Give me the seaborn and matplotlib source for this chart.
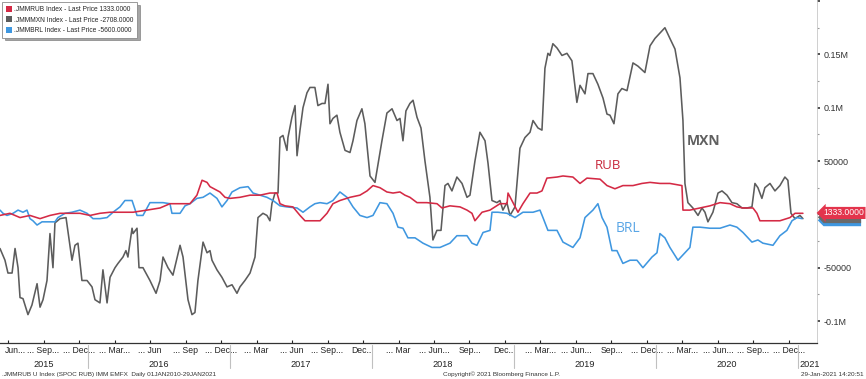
import numpy as np
import pandas as pd
import seaborn as sns
import matplotlib
matplotlib.use("Agg")
import matplotlib.pyplot as plt
from matplotlib.transforms import blended_transform_factory
from matplotlib.patches import Patch, Polygon
from matplotlib.lines import Line2D

# ---------------- data (time in decimal years, values in thousands) ----------------
mxn_t = [2015.38, 2015.415, 2015.436, 2015.465, 2015.486, 2015.507, 2015.521, 2015.542, 2015.577, 2015.605,
         2015.641, 2015.662, 2015.683, 2015.711, 2015.732, 2015.753, 2015.767, 2015.803, 2015.845, 2015.887,
         2015.908, 2015.929, 2015.957, 2015.993, 2016.028, 2016.049, 2016.084, 2016.105, 2016.134, 2016.155,
         2016.19, 2016.211, 2016.246, 2016.267, 2016.281, 2016.31, 2016.317, 2016.345, 2016.359, 2016.387,
         2016.436, 2016.479, 2016.507, 2016.528, 2016.563, 2016.598, 2016.648, 2016.669, 2016.704, 2016.732,
         2016.753, 2016.774, 2016.81, 2016.838, 2016.859, 2016.873, 2016.908, 2016.943, 2016.979, 2017.014,
         2017.049, 2017.07, 2017.105, 2017.141, 2017.176, 2017.197, 2017.232, 2017.26, 2017.281, 2017.295,
         2017.317, 2017.338, 2017.352, 2017.373, 2017.401, 2017.408, 2017.436, 2017.458, 2017.472, 2017.493,
         2017.514, 2017.542, 2017.563, 2017.598, 2017.619, 2017.648, 2017.669, 2017.69, 2017.704, 2017.725,
         2017.753, 2017.774, 2017.81, 2017.845, 2017.866, 2017.894, 2017.929, 2017.95, 2017.986, 2018.021,
         2018.07, 2018.105, 2018.141, 2018.176, 2018.197, 2018.218, 2018.239, 2018.267, 2018.289, 2018.317,
         2018.345, 2018.373, 2018.408, 2018.429, 2018.457, 2018.486, 2018.514, 2018.535, 2018.563, 2018.598,
         2018.634, 2018.669, 2018.69, 2018.725, 2018.76, 2018.796, 2018.817, 2018.845, 2018.88, 2018.901,
         2018.922, 2018.95, 2018.972, 2019.007, 2019.042, 2019.077, 2019.113, 2019.134, 2019.169, 2019.197,
         2019.218, 2019.239, 2019.253, 2019.274, 2019.303, 2019.338, 2019.373, 2019.408, 2019.443, 2019.465,
         2019.5, 2019.521, 2019.556, 2019.591, 2019.627, 2019.655, 2019.676, 2019.704, 2019.732, 2019.76,
         2019.796, 2019.838, 2019.873, 2019.922, 2019.958, 2019.993, 2020.028, 2020.063, 2020.098, 2020.134,
         2020.169, 2020.19, 2020.204, 2020.225, 2020.26, 2020.296, 2020.324, 2020.345, 2020.366, 2020.401,
         2020.437, 2020.465, 2020.5, 2020.535, 2020.57, 2020.606, 2020.641, 2020.676, 2020.697, 2020.718,
         2020.746, 2020.767, 2020.803, 2020.838, 2020.873, 2020.908, 2020.929, 2020.951, 2020.979, 2021.014,
         2021.035]
mxn_v = [-32, -43, -55, -55, -32, -50, -78, -79, -94, -85,
         -65, -87, -80, -62, -18, -50, -8, -4, -3, -43,
         -29, -27, -62, -62, -68, -80, -83, -52, -83, -59,
         -50, -46, -40, -34, -40, -13, -18, -13, -50, -50,
         -62, -74, -62, -40, -50, -57, -29, -40, -80, -94,
         -92, -62, -26, -36, -34, -43, -52, -59, -68, -66,
         -74, -68, -62, -55, -40, -3, 1, -1, -6, 10,
         20, 20, 72, 74, 60, 72, 91, 102, 55, 79,
         100, 114, 119, 119, 102, 104, 104, 122, 85, 90,
         93, 77, 60, 58, 69, 88, 99, 85, 36, 30,
         69, 95, 99, 88, 90, 69, 97, 104, 107, 91,
         81, 50, 16, -24, -15, -15, 27, 29, 22, 35,
         29, 16, 18, 50, 77, 69, 48, 13, 11, 13,
         4, 11, -1, 7, 62, 72, 77, 88, 81, 79,
         137, 151, 149, 160, 156, 149, 151, 144, 105, 121,
         113, 132, 132, 122, 109, 94, 93, 85, 113, 118,
         116, 142, 139, 133, 158, 165, 170, 175, 165, 155,
         128, 88, 29, 11, 6, -1, 6, 2, -7, 2,
         20, 22, 18, 11, 10, 6, 6, 7, 29, 25,
         15, 25, 29, 22, 27, 35, 32, 1, -4, -1,
         -4]

rub_t = [2015.38, 2015.45, 2015.521, 2015.591, 2015.662, 2015.732, 2015.803, 2015.873, 2015.943, 2016.014,
         2016.084, 2016.155, 2016.225, 2016.317, 2016.415, 2016.507, 2016.577, 2016.648, 2016.718, 2016.767,
         2016.803, 2016.838, 2016.859, 2016.929, 2016.965, 2017.0, 2017.07, 2017.141, 2017.211, 2017.281,
         2017.331, 2017.352, 2017.387, 2017.443, 2017.493, 2017.528, 2017.584, 2017.634, 2017.683, 2017.725,
         2017.774, 2017.845, 2017.915, 2017.965, 2018.007, 2018.056, 2018.105, 2018.148, 2018.197, 2018.232,
         2018.267, 2018.317, 2018.387, 2018.458, 2018.493, 2018.549, 2018.62, 2018.669, 2018.704, 2018.725,
         2018.775, 2018.831, 2018.901, 2018.951, 2018.958, 2018.993, 2019.028, 2019.063, 2019.113, 2019.162,
         2019.197, 2019.232, 2019.303, 2019.345, 2019.415, 2019.465, 2019.514, 2019.606, 2019.655, 2019.711,
         2019.767, 2019.838, 2019.901, 2019.958, 2020.028, 2020.098, 2020.183, 2020.19, 2020.239, 2020.31,
         2020.38, 2020.451, 2020.521, 2020.57, 2020.613, 2020.683, 2020.711, 2020.732, 2020.803, 2020.873,
         2020.944, 2020.979, 2021.035]
rub_v = [-1, 1, -3, -1, -4, -1, 1, 1, 1, -1,
         1, 2, 2, 2, 4, 6, 10, 10, 10, 18,
         32, 30, 26, 21, 16, 15, 16, 18, 18, 20,
         20, 10, 8, 7, -1, -6, -6, -6, 1, 10,
         13, 16, 18, 22, 27, 25, 21, 20, 21, 18,
         16, 11, 11, 10, 6, 8, 7, 4, 1, -6,
         2, 4, 10, 10, 20, 11, 2, 10, 20, 20,
         22, 34, 35, 36, 35, 29, 34, 33, 27, 24,
         27, 27, 29, 30, 29, 29, 27, 4, 4, 6,
         8, 11, 10, 7, 6, 6, 1, -6, -6, -6,
         -3, 1, 1]

brl_t = [2015.38, 2015.401, 2015.429, 2015.472, 2015.507, 2015.542, 2015.57, 2015.591, 2015.612, 2015.641,
         2015.676, 2015.732, 2015.767, 2015.788, 2015.838, 2015.887, 2015.943, 2015.993, 2016.035, 2016.084,
         2016.134, 2016.176, 2016.225, 2016.26, 2016.31, 2016.345, 2016.387, 2016.436, 2016.486, 2016.528,
         2016.577, 2016.591, 2016.648, 2016.683, 2016.718, 2016.767, 2016.81, 2016.859, 2016.908, 2016.943,
         2016.979, 2017.014, 2017.07, 2017.127, 2017.162, 2017.211, 2017.26, 2017.303, 2017.352, 2017.401,
         2017.472, 2017.514, 2017.563, 2017.598, 2017.634, 2017.683, 2017.725, 2017.774, 2017.824, 2017.866,
         2017.915, 2017.965, 2018.007, 2018.056, 2018.105, 2018.148, 2018.183, 2018.218, 2018.253, 2018.303,
         2018.359, 2018.422, 2018.479, 2018.549, 2018.598, 2018.669, 2018.704, 2018.739, 2018.782, 2018.831,
         2018.845, 2018.887, 2018.951, 2019.007, 2019.063, 2019.134, 2019.183, 2019.204, 2019.239, 2019.303,
         2019.345, 2019.415, 2019.465, 2019.5, 2019.556, 2019.591, 2019.62, 2019.655, 2019.69, 2019.725,
         2019.767, 2019.817, 2019.866, 2019.908, 2019.972, 2020.007, 2020.028, 2020.063, 2020.098, 2020.155,
         2020.204, 2020.239, 2020.26, 2020.31, 2020.38, 2020.451, 2020.521, 2020.57, 2020.613, 2020.676,
         2020.718, 2020.753, 2020.824, 2020.873, 2020.922, 2020.958, 2020.993, 2021.028]
brl_v = [4, 1, -1, 1, 4, 2, 4, -4, -6, -10,
         -7, -7, -7, -3, 1, 2, 4, 1, -4, -4,
         -3, 2, 7, 13, 13, -1, -1, 11, 11, 11,
         10, 1, 1, 8, 10, 15, 16, 20, 15, 7,
         13, 21, 25, 26, 20, 18, 16, 13, 8, 7,
         6, 2, 7, 10, 11, 10, 13, 21, 16, 7,
         -1, -3, -1, 11, 10, 1, -12, -13, -22, -22,
         -27, -31, -31, -27, -20, -20, -27, -29, -17, -15,
         2, 2, 1, -3, 2, 2, 4, -3, -15, -15,
         -26, -31, -22, -3, 4, 10, -3, -12, -34, -34,
         -46, -43, -43, -50, -40, -36, -18, -22, -31, -43,
         -36, -31, -12, -12, -13, -13, -10, -12, -17, -26,
         -24, -27, -29, -20, -15, -6, -3, -4]

series_names = ["MXN", "BRL", "RUB"]
legend_labels = [".JMMRUB Index - Last Price 1333.0000",
                 ".JMMMXN Index - Last Price -2708.0000",
                 ".JMMBRL Index - Last Price -5600.0000"]
last_prices = {"RUB": 1333.0, "MXN": -2708.0, "BRL": -5600.0}

ytick_vals = [-100000, -50000, 0, 50000, 100000, 150000, 200000]
ytick_labels = ["-0.1M", "-50000", "", "50000", "0.1M", "0.15M", ""]
yminor_vals = [-75000, -25000, 25000, 75000, 125000, 175000]

quarter_labels = ["Jun...", "... Sep...", "... Dec...",
                  "... Mar...", "... Jun", "... Sep", "... Dec...",
                  "... Mar", "... Jun", "... Sep...", "Dec...",
                  "... Mar", "... Jun...", "Sep...", "Dec...",
                  "... Mar...", "... Jun...", "Sep...", "... Dec...",
                  "... Mar...", "... Jun...", "... Sep...", "... Dec..."]
year_labels = ["2015", "2016", "2017", "2018", "2019", "2020", "2021"]

colors = {"RUB": "#d42a45", "MXN": "#5c5c5c", "BRL": "#3f97e0"}

# ---------------- build frame ----------------
df = pd.concat([
    pd.DataFrame({"t": mxn_t, "v": np.array(mxn_v) * 1000.0, "series": "MXN"}),
    pd.DataFrame({"t": brl_t, "v": np.array(brl_v) * 1000.0, "series": "BRL"}),
    pd.DataFrame({"t": rub_t, "v": np.array(rub_v) * 1000.0, "series": "RUB"}),
], ignore_index=True)

sns.set_theme(style="white")
plt.rcParams["font.family"] = ["Liberation Sans", "DejaVu Sans"]

fig = plt.figure(figsize=(8.66, 3.79), dpi=100)
ax = fig.add_axes([0.0, 0.095, 0.9434, 0.905])

sns.lineplot(data=df, x="t", y="v", hue="series", hue_order=series_names,
             palette=colors, estimator=None, linewidth=1.15, legend=False, ax=ax)

ax.set_xlim(2015.38, 2021.134)
ax.set_ylim(-120600, 201000)
ax.set_xlabel("")
ax.set_ylabel("")
ax.grid(False)

for s in ["left", "top"]:
    ax.spines[s].set_visible(False)
ax.spines["bottom"].set_color("#333333")
ax.spines["bottom"].set_linewidth(0.9)
ax.spines["right"].set_color("#c8c8c8")
ax.spines["right"].set_linewidth(0.6)

# y axis on the right
ax.yaxis.tick_right()
ax.set_yticks(ytick_vals)
ax.set_yticklabels(ytick_labels)
ax.set_yticks(yminor_vals, minor=True)
ax.tick_params(axis="y", which="major", length=2.5, width=1.2, colors="#333333",
               labelsize=6.5, pad=2, direction="out", left=False, right=True)
ax.tick_params(axis="y", which="minor", length=1.5, width=0.8, colors="#999999",
               left=False, right=True)

# x axis quarters
qpos = []
for yr in range(2015, 2021):
    for m in (3, 6, 9, 12):
        if yr == 2015 and m == 3:
            continue
        qpos.append(yr + (m - 1) / 12.0 + 0.02)
ax.set_xticks(qpos)
ax.set_xticklabels([""] + quarter_labels[1:])
ax.tick_params(axis="x", which="major", length=2.5, width=0.8, direction="in",
               colors="#222222", labelsize=6.2, pad=2.5, bottom=True)

btr = blended_transform_factory(ax.transData, fig.transFigure)
# first quarter label sits flush at the left edge
ax.text(2015.415, 0.0862, quarter_labels[0], transform=btr, ha="left", va="top",
        fontsize=6.2, color="#222222", clip_on=False)

# year labels and separators
x0, x1 = ax.get_xlim()
for lab in year_labels:
    yr = int(lab)
    if yr < 2021:
        lo = max(yr, x0)
        hi = yr + 1
        ax.text((lo + hi) / 2.0, 0.037, lab, transform=btr, ha="center", va="center",
                fontsize=6.6, color="#222222", clip_on=False)
    else:
        ax.text(yr + 0.01, 0.037, lab, transform=btr, ha="left", va="center",
                fontsize=6.6, color="#222222", clip_on=False)
    if yr > 2015:
        fig.add_artist(Line2D([yr, yr], [0.028, 0.09], transform=btr,
                              color="#c0c0c0", lw=0.8))

# footer texts
fig.text(0.002, 0.012, ".JMMRUB U Index (SPOC RUB) IMM EMFX  Daily 01JAN2010-29JAN2021",
         fontsize=4.6, color="#333333", ha="left", va="center")
fig.text(0.511, 0.012, "Copyright\u00a9 2021 Bloomberg Finance L.P.",
         fontsize=4.6, color="#333333", ha="left", va="center")
fig.text(0.997, 0.012, "29-Jan-2021 14:20:51",
         fontsize=4.6, color="#333333", ha="right", va="center")

# legend
handles = [Patch(facecolor=colors["RUB"], edgecolor="none"),
           Patch(facecolor=colors["MXN"], edgecolor="none"),
           Patch(facecolor=colors["BRL"], edgecolor="none")]
leg = ax.legend(handles, legend_labels, loc="upper left", bbox_to_anchor=(0.003, 0.993),
                fontsize=4.8, frameon=True, fancybox=False, shadow=True, edgecolor="#8a8a8a",
                framealpha=1, handlelength=0.9, handleheight=1.0, handletextpad=0.4,
                borderpad=0.5, labelspacing=0.5, borderaxespad=0)
leg.get_frame().set_linewidth(0.6)

# series name annotations
ax.text(2020.338, 69000, "MXN", color="#606060", fontsize=10, fontweight="bold",
        ha="center", va="center", family=["Open Sans", "DejaVu Sans"])
ax.text(2019.662, 46000, "RUB", color="#c8283c", fontsize=9.5,
        ha="center", va="center", family=["Open Sans", "DejaVu Sans"])
ax.text(2019.803, -13000, "BRL", color="#5aa6e6", fontsize=10,
        ha="center", va="center", family=["Open Sans", "DejaVu Sans"])

# last-price markers on the right axis (hidden ones drawn as plain tags)
rtr = blended_transform_factory(ax.transAxes, ax.transData)
tag_h = 11000.0
for name, fc in [("BRL", colors["BRL"]), ("MXN", "#6a6a6a")]:
    v = last_prices[name]
    poly = Polygon([(1.001, v), (1.008, v + tag_h / 2), (1.054, v + tag_h / 2),
                    (1.054, v - tag_h / 2), (1.008, v - tag_h / 2)],
                   closed=True, transform=rtr, fc=fc, ec="none", clip_on=False, zorder=5)
    ax.add_patch(poly)
v = last_prices["RUB"]
ax.text(1.0075, v, f"{v:.4f}", transform=rtr, ha="left", va="center",
        fontsize=6.2, color="white", zorder=7, clip_on=False,
        bbox=dict(boxstyle="larrow,pad=0.18", fc="#e3344c", ec="none"))

fig.savefig("out.png", dpi=100)
